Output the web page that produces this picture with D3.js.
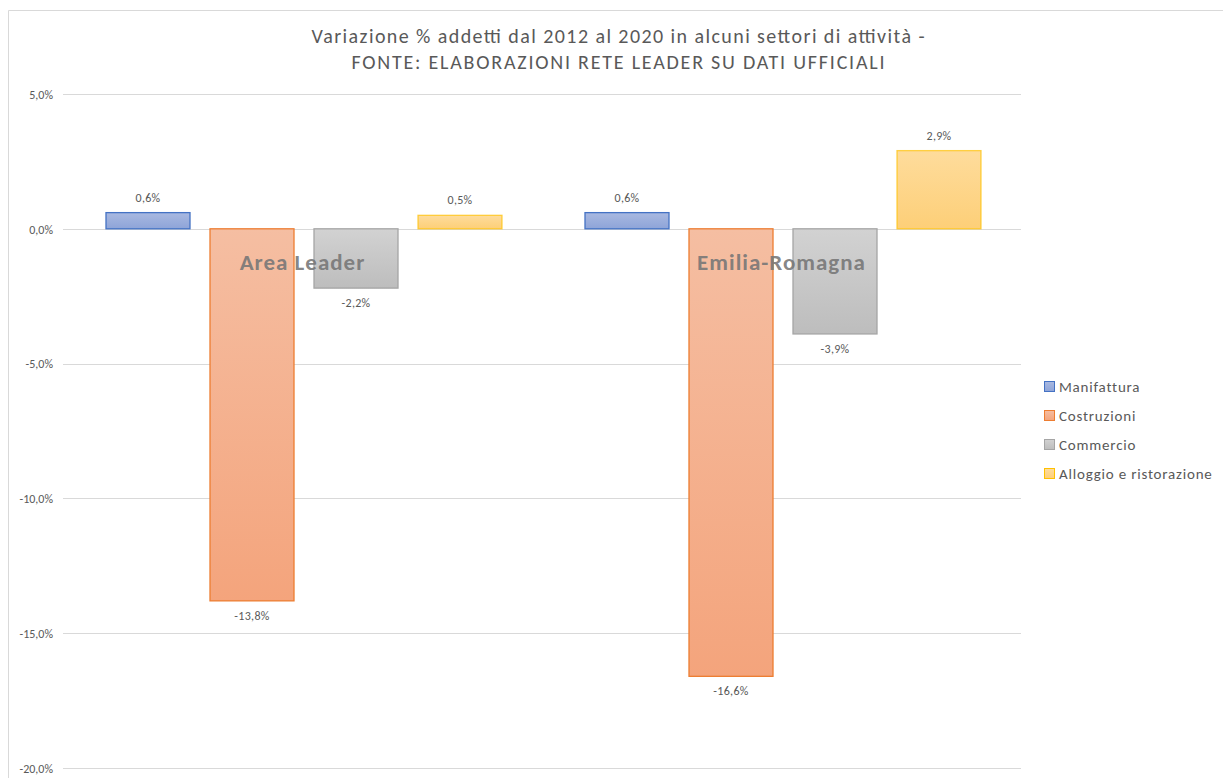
<!DOCTYPE html>
<html><head><meta charset="utf-8">
<script src="https://cdn.jsdelivr.net/npm/d3@7"></script>
<style>body{margin:0;background:#fff}svg{display:block}</style>
</head><body>
<svg id="c" width="1223" height="778"></svg>
<script>
const groups = ["Area Leader", "Emilia-Romagna"];
const series = ["Manifattura", "Costruzioni", "Commercio", "Alloggio e ristorazione"];
const areaLeader = [0.6, -13.8, -2.2, 0.5];
const emiliaRomagna = [0.6, -16.6, -3.9, 2.9];
const yTicks = [5, 0, -5, -10, -15, -20];
const titleLines = ["Variazione  % addetti  dal  2012 al 2020 in alcuni settori di attività -", "FONTE: ELABORAZIONI RETE LEADER SU DATI UFFICIALI"];

const strokes = ["#4472c4", "#ed7d31", "#a5a5a5", "#ffc000"];
const grads = [["#a9b9e1", "#8ea4d8"], ["#f5bea2", "#f4a47c"], ["#d2d2d2", "#bdbdbd"], ["#fedc9c", "#fdcf78"]];
const strokeOp = [1, 1, 1, 0.7];

const svg = d3.select("#c");
const font = "Carlito, 'Open Sans', 'Liberation Sans', sans-serif";
const txt = "#595959";

// chart frame
svg.append("path").attr("d", "M8.5,778 V10.5 H1223").attr("fill", "none").attr("stroke", "#d9d9d9").attr("stroke-width", 1);

const defs = svg.append("defs");
grads.forEach((g, i) => {
  const lg = defs.append("linearGradient").attr("id", "g" + i).attr("x1", 0).attr("y1", 0).attr("x2", 0).attr("y2", 1);
  lg.append("stop").attr("offset", "0%").attr("stop-color", g[0]);
  lg.append("stop").attr("offset", "100%").attr("stop-color", g[1]);
});

const y = d3.scaleLinear().domain([-20, 5]).range([768, 94]);
const x0 = d3.scaleBand().domain(groups).range([63, 1021]).paddingInner(0).paddingOuter(0);
const inner = d3.scaleBand().domain(series).range([43, 439]).paddingInner(20 / 104).paddingOuter(0);

// gridlines
svg.append("g").selectAll("line").data(yTicks).join("line")
  .attr("x1", 63).attr("x2", 1021)
  .attr("y1", d => Math.round(y(d)) + 0.5).attr("y2", d => Math.round(y(d)) + 0.5)
  .attr("stroke", "#d9d9d9").attr("stroke-width", 1);

const fmt = v => d3.format(".1f")(v).replace(".", ",").replace("−", "-") + "%";

// y axis labels
const yAxis = d3.axisLeft(y).tickValues(yTicks).tickSize(0).tickPadding(0).tickFormat(fmt);
const ga = svg.append("g").attr("transform", "translate(53,0)").call(yAxis);
ga.select(".domain").remove();
ga.selectAll("text").attr("fill", txt).attr("font-family", font).attr("font-size", 12).attr("dy", "0.35em");

const data = [areaLeader, emiliaRomagna];
const gg = svg.append("g").selectAll("g").data(groups).join("g")
  .attr("transform", d => `translate(${x0(d)},0)`);

gg.selectAll("rect").data((g, gi) => data[gi].map((v, i) => ({s: series[i], v, i}))).join("rect")
  .attr("x", d => inner(d.s))
  .attr("width", inner.bandwidth())
  .attr("y", d => y(Math.max(0, d.v)))
  .attr("height", d => Math.abs(y(d.v) - y(0)))
  .attr("fill", d => `url(#g${d.i})`)
  .attr("stroke", d => strokes[d.i])
  .attr("stroke-opacity", d => strokeOp[d.i])
  .attr("stroke-width", 1.3);

gg.selectAll("text.lbl").data((g, gi) => data[gi].map((v, i) => ({s: series[i], v, i}))).join("text")
  .attr("class", "lbl")
  .attr("x", d => inner(d.s) + inner.bandwidth() / 2)
  .attr("y", d => d.v >= 0 ? y(d.v) - 11 : y(d.v) + 19)
  .attr("text-anchor", "middle")
  .attr("fill", txt).attr("font-family", font).attr("font-size", 12).attr("letter-spacing", 0.3)
  .text(d => fmt(d.v));

// group labels
svg.append("g").selectAll("text").data(groups).join("text")
  .attr("x", d => x0(d) + x0.bandwidth() / 2)
  .attr("y", 270)
  .attr("text-anchor", "middle")
  .attr("fill", "#767676").attr("fill-opacity", 0.9)
  .attr("font-family", font).attr("font-weight", "bold").attr("font-size", 23).attr("letter-spacing", 1)
  .text(d => d);

// title
const tl = [613, 533];
svg.append("g").selectAll("text").data(titleLines).join("text")
  .attr("x", 618).attr("y", (d, i) => 43 + i * 26)
  .attr("text-anchor", "middle")
  .attr("textLength", (d, i) => tl[i]).attr("lengthAdjust", "spacing")
  .attr("fill", txt).attr("font-family", font).attr("font-size", 20)
  .text(d => d);

// legend
const lg = svg.append("g").selectAll("g").data(series).join("g")
  .attr("transform", (d, i) => `translate(1044,${387 + i * 29})`);
lg.append("rect").attr("x", 0.5).attr("y", -5.5).attr("width", 10).attr("height", 10)
  .attr("fill", (d, i) => `url(#g${i})`).attr("stroke", (d, i) => strokes[i]).attr("stroke-width", 1);
lg.append("text").attr("x", 15).attr("y", 0).attr("dy", "0.35em")
  .attr("fill", txt).attr("font-family", font).attr("font-size", 15).attr("letter-spacing", 0.8)
  .text(d => d);
</script>
</body></html>
